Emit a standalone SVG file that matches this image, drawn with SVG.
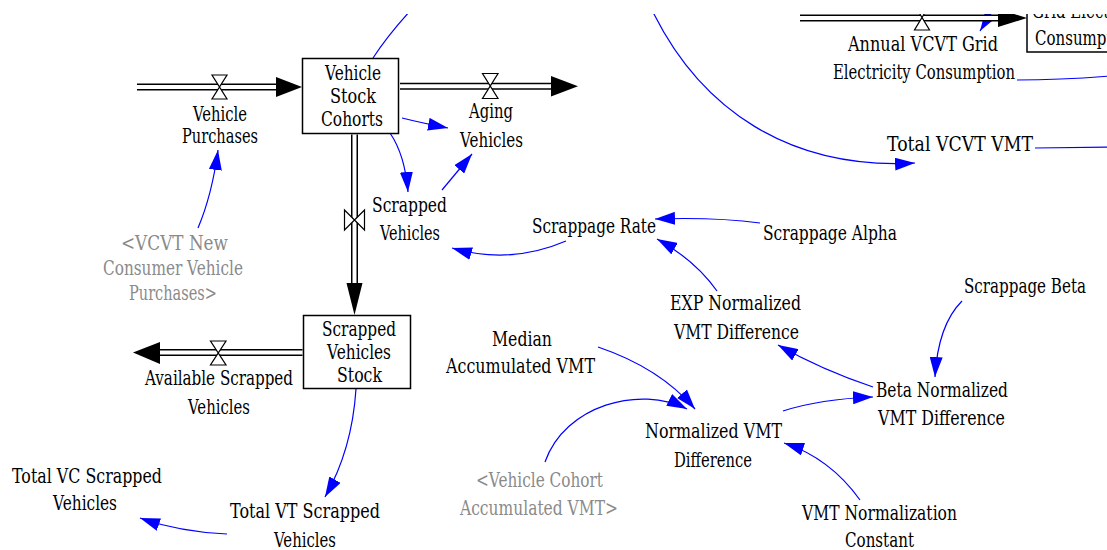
<svg xmlns="http://www.w3.org/2000/svg" width="1107" height="550" viewBox="0 0 1107 550">
<defs>
<clipPath id="vis"><rect x="0" y="14" width="1107" height="536"/></clipPath>
<marker id="ah" markerUnits="userSpaceOnUse" markerWidth="20" markerHeight="13" refX="20" refY="6.5" orient="auto" viewBox="0 0 20 13"><path d="M0,0 L20,6.5 L0,13 Z" fill="#0000ff"/></marker>
</defs>
<style>
text{font-family:'DejaVu Serif',serif;font-size:19.5px;fill:#000}
.gr{fill:#8a8a8a}
.c{fill:none;stroke:#0000ff;stroke-width:1.2;marker-end:url(#ah)}
.cn{fill:none;stroke:#0000ff;stroke-width:1.2}
.po{fill:none;stroke:#000;stroke-width:7}
.pi{fill:none;stroke:#fff;stroke-width:4}
.v{fill:#fff;stroke:#000;stroke-width:1.2}
.b{fill:#fff;stroke:#000;stroke-width:1.5}
.ha{fill:#000}
</style>
<rect width="1107" height="550" fill="#fff"/>
<g clip-path="url(#vis)">
<g id="connectors">
<path class="c" d="M198,228 Q212,195 218,150"/>
<path class="c" d="M402,118 Q422,123 448,128"/>
<path class="c" d="M390,133 Q405,155 408,192"/>
<path class="c" d="M442,190 L472,154"/>
<path class="c" d="M566,241 Q510,265 452,248"/>
<path class="c" d="M760,223 Q715,217 655,219"/>
<path class="c" d="M717,291 Q695,260 657,239"/>
<path class="c" d="M962,301 Q938,325 935,377"/>
<path class="c" d="M873,387 Q822,370 778,345"/>
<path class="c" d="M783,411 Q820,399 873,397"/>
<path class="c" d="M598,347 Q660,368 695,409"/>
<path class="c" d="M545,462 C565,405 640,385 687,409"/>
<path class="c" d="M860,500 Q830,458 784,443"/>
<path class="c" d="M356,389 Q352,450 325,497"/>
<path class="c" d="M227,534 Q180,532 140,518"/>
<path class="cn" d="M373,58 Q388,35 411,10"/>
<path class="c" d="M651,8 C700,110 790,170 915,163"/>
<path class="cn" d="M1017,80 Q1060,80 1110,76"/>
<path class="cn" d="M1035,148 L1110,147"/>
<path class="c" d="M1003,-5 L980,31"/>
</g>
<g id="vehicle-purchases">
<path class="po" d="M137,87 H278"/><path class="pi" d="M137,87 H279"/>
<path class="ha" d="M276,77 L302,87 L276,97 Z"/>
<polygon class="v" points="212,75 227,75 212,99 227,99"/>
<text x="193" y="121" textLength="54" lengthAdjust="spacingAndGlyphs">Vehicle</text>
<text x="182" y="143" textLength="76" lengthAdjust="spacingAndGlyphs">Purchases</text>
</g>
<g id="vehicle-stock-cohorts">
<rect class="b" x="302.5" y="58.5" width="96" height="75"/>
<text x="325" y="80" textLength="56" lengthAdjust="spacingAndGlyphs">Vehicle</text>
<text x="330" y="103" textLength="46" lengthAdjust="spacingAndGlyphs">Stock</text>
<text x="321" y="126" textLength="62" lengthAdjust="spacingAndGlyphs">Cohorts</text>
</g>
<g id="aging-vehicles">
<path class="po" d="M400,86.3 H553"/><path class="pi" d="M400,86.3 H554"/>
<path class="ha" d="M551,76 L578,86.3 L551,96.5 Z"/>
<polygon class="v" points="482.5,73.5 498,73.5 482.5,98.5 498,98.5"/>
<text x="469" y="118" textLength="44" lengthAdjust="spacingAndGlyphs">Aging</text>
<text x="460" y="147" textLength="63" lengthAdjust="spacingAndGlyphs">Vehicles</text>
</g>
<g id="scrapped-vehicles">
<path class="po" d="M354.5,134.5 V285"/><path class="pi" d="M354.5,134.5 V286"/>
<path class="ha" d="M346.5,283 L362.5,283 L354.5,315 Z"/>
<polygon class="v" points="344.5,210 344.5,230 364.5,210 364.5,230"/>
<text x="372" y="212" textLength="75" lengthAdjust="spacingAndGlyphs">Scrapped</text>
<text x="380" y="240" textLength="60" lengthAdjust="spacingAndGlyphs">Vehicles</text>
</g>
<g id="vcvt-new-consumer-vehicle-purchases">
<text class="gr" x="121" y="250" textLength="107" lengthAdjust="spacingAndGlyphs">&lt;VCVT New</text>
<text class="gr" x="103" y="275" textLength="140" lengthAdjust="spacingAndGlyphs">Consumer Vehicle</text>
<text class="gr" x="129" y="300" textLength="88" lengthAdjust="spacingAndGlyphs">Purchases&gt;</text>
</g>
<g id="scrapped-vehicles-stock">
<rect class="b" x="303.5" y="315.5" width="107" height="73"/>
<text x="322" y="336" textLength="74" lengthAdjust="spacingAndGlyphs">Scrapped</text>
<text x="327" y="359" textLength="64" lengthAdjust="spacingAndGlyphs">Vehicles</text>
<text x="337" y="382" textLength="45" lengthAdjust="spacingAndGlyphs">Stock</text>
</g>
<g id="available-scrapped-vehicles">
<path class="po" d="M302.5,352.5 H158"/><path class="pi" d="M302.5,352.5 H157"/>
<path class="ha" d="M160,342 L133,352.5 L160,364 Z"/>
<polygon class="v" points="210.5,341 226,341 210.5,365 226,365"/>
<text x="145" y="385" textLength="148" lengthAdjust="spacingAndGlyphs">Available Scrapped</text>
<text x="188" y="414" textLength="62" lengthAdjust="spacingAndGlyphs">Vehicles</text>
</g>
<g id="total-vc-scrapped-vehicles">
<text x="12" y="483" textLength="150" lengthAdjust="spacingAndGlyphs">Total VC Scrapped</text>
<text x="53" y="510" textLength="64" lengthAdjust="spacingAndGlyphs">Vehicles</text>
</g>
<g id="total-vt-scrapped-vehicles">
<text x="230" y="518" textLength="150" lengthAdjust="spacingAndGlyphs">Total VT Scrapped</text>
<text x="274" y="547" textLength="62" lengthAdjust="spacingAndGlyphs">Vehicles</text>
</g>
<g id="scrappage-rate">
<text x="532" y="232.5" textLength="124" lengthAdjust="spacingAndGlyphs">Scrappage Rate</text>
</g>
<g id="scrappage-alpha">
<text x="763" y="239.5" textLength="134" lengthAdjust="spacingAndGlyphs">Scrappage Alpha</text>
</g>
<g id="exp-normalized-vmt-difference">
<text x="670" y="310" textLength="131" lengthAdjust="spacingAndGlyphs">EXP Normalized</text>
<text x="674" y="338.5" textLength="125" lengthAdjust="spacingAndGlyphs">VMT Difference</text>
</g>
<g id="scrappage-beta">
<text x="964" y="293" textLength="122" lengthAdjust="spacingAndGlyphs">Scrappage Beta</text>
</g>
<g id="median-accumulated-vmt">
<text x="492" y="346" textLength="60" lengthAdjust="spacingAndGlyphs">Median</text>
<text x="446" y="373" textLength="149" lengthAdjust="spacingAndGlyphs">Accumulated VMT</text>
</g>
<g id="beta-normalized-vmt-difference">
<text x="876" y="397" textLength="132" lengthAdjust="spacingAndGlyphs">Beta Normalized</text>
<text x="878" y="425" textLength="127" lengthAdjust="spacingAndGlyphs">VMT Difference</text>
</g>
<g id="normalized-vmt-difference">
<text x="645" y="438" textLength="137" lengthAdjust="spacingAndGlyphs">Normalized VMT</text>
<text x="674" y="466.5" textLength="78" lengthAdjust="spacingAndGlyphs">Difference</text>
</g>
<g id="vehicle-cohort-accumulated-vmt">
<text class="gr" x="476" y="486.5" textLength="127" lengthAdjust="spacingAndGlyphs">&lt;Vehicle Cohort</text>
<text class="gr" x="460" y="515" textLength="158" lengthAdjust="spacingAndGlyphs">Accumulated VMT&gt;</text>
</g>
<g id="vmt-normalization-constant">
<text x="802" y="520" textLength="155" lengthAdjust="spacingAndGlyphs">VMT Normalization</text>
<text x="845" y="546.5" textLength="69" lengthAdjust="spacingAndGlyphs">Constant</text>
</g>
<g id="total-vcvt-vmt">
<text x="887" y="151" textLength="146" lengthAdjust="spacingAndGlyphs">Total VCVT VMT</text>
</g>
<g id="annual-vcvt-grid-electricity-consumption">
<path class="po" d="M800,18 H1000"/><path class="pi" d="M800,18 H1001"/>
<path class="ha" d="M998,9 L1027,18 L998,27 Z"/>
<polygon class="v" points="914.5,5 929.5,5 914.5,30 929.5,30"/>
<text x="848" y="51" textLength="150" lengthAdjust="spacingAndGlyphs">Annual VCVT Grid</text>
<text x="833" y="79" textLength="182" lengthAdjust="spacingAndGlyphs">Electricity Consumption</text>
</g>
<g id="grid-electricity-consumption">
<rect class="b" x="1027" y="-30" width="120" height="82"/>
<text x="1032" y="18" textLength="117" lengthAdjust="spacingAndGlyphs">Grid Electricity</text>
<text x="1035" y="45" textLength="101" lengthAdjust="spacingAndGlyphs">Consumption</text>
</g>
</g>
</svg>
